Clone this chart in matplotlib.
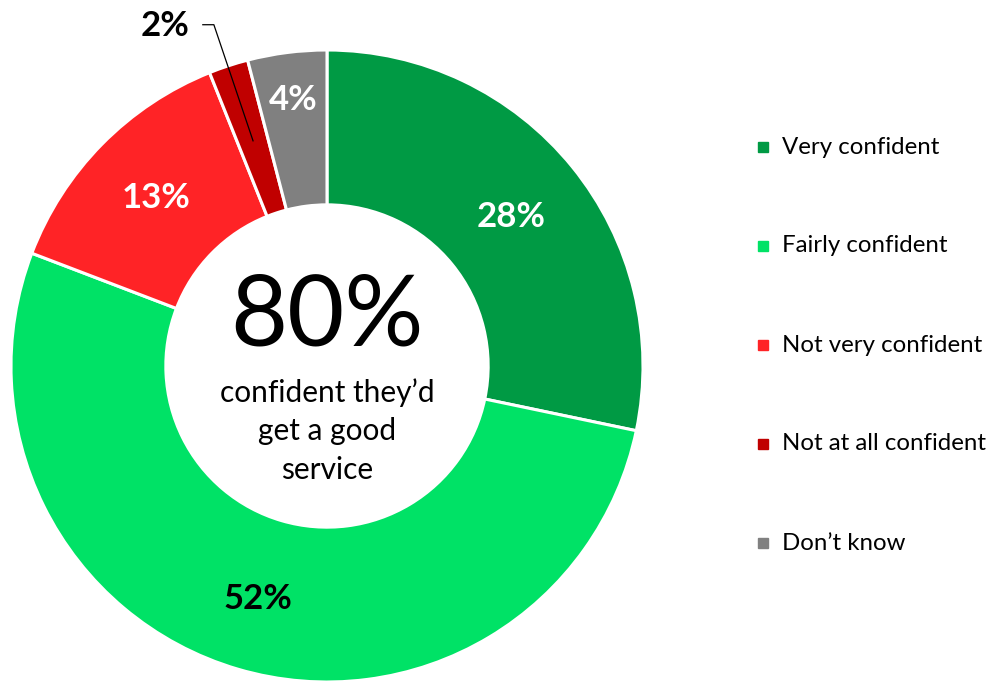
import numpy as np
import matplotlib.pyplot as plt

plt.rcParams['font.family'] = ['Lato', 'DejaVu Sans']

labels = ['Very confident', 'Fairly confident', 'Not very confident',
          'Not at all confident', "Don\u2019t know"]
values = [28, 52, 13, 2, 4]
colors = ['#009A44', '#00E266', '#FF2326', '#C00000', '#808080']
label_colors = ['white', 'black', 'white', 'black', 'white']
label_radius = [0.75, 0.77, 0.76, 0.75, 0.85]
centre_big = '80%'
centre_small = 'confident they\u2019d\nget a good\nservice'

W, H = 995, 682
fig = plt.figure(figsize=(W / 100, H / 100), dpi=100)

# donut centre and radius in pixels
cx, cy, R = 327, 366, 316
span = 1.1
size = 2 * span * R
ax = fig.add_axes([(cx - size / 2) / W, (H - cy - size / 2) / H, size / W, size / H])

wedges, _ = ax.pie(values, colors=colors, startangle=90, counterclock=False,
                   radius=1, wedgeprops=dict(width=0.49, edgecolor='white', linewidth=2.2))
ax.set_xlim(-span, span)
ax.set_ylim(-span, span)
ax.set_aspect('equal')
ax.axis('off')

for i, w in enumerate(wedges):
    mid = np.deg2rad((w.theta1 + w.theta2) / 2)
    r = label_radius[i]
    x, y = r * np.cos(mid), r * np.sin(mid)
    txt = f'{values[i]}%'
    if values[i] < 3:
        # small slice: label outside with leader line
        tx, ty = -0.513, 1.075
        ax.plot([tx + 0.12, tx + 0.155, x], [ty + 0.005, ty + 0.005, y], color='black', lw=0.9)
        ax.text(tx, ty, txt, ha='center', va='center', fontsize=25,
                fontweight='bold', color=label_colors[i])
    else:
        ax.text(x, y, txt, ha='center', va='center', fontsize=25,
                fontweight='bold', color=label_colors[i])

ax.text(0, 0.155, centre_big, ha='center', va='center', fontsize=71)
ax.text(0, -0.205, centre_small, ha='center', va='center', fontsize=21.5,
        linespacing=1.45)

# legend
for i, (lab, col) in enumerate(zip(labels, colors)):
    ypix = 147 + i * 99
    fig.patches.append(plt.Rectangle(((763 - 5) / W, (H - ypix - 5) / H), 10 / W, 10 / H,
                                     transform=fig.transFigure, color=col))
    fig.text(782 / W, (H - ypix) / H, lab, ha='left', va='center', fontsize=17.3)

fig.savefig('out.png', dpi=100)
